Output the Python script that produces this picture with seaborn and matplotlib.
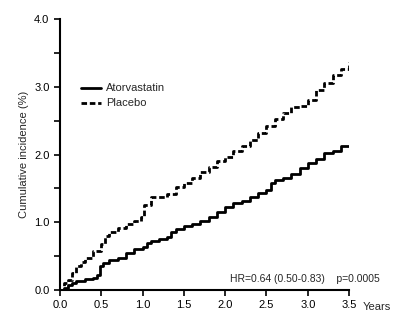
import numpy as np
import pandas as pd
import seaborn as sns
import matplotlib
matplotlib.use("Agg")
import matplotlib.pyplot as plt
from matplotlib.ticker import MultipleLocator, FormatStrFormatter

ator_t = [0, 0.05, 0.1, 0.15, 0.2, 0.3, 0.4, 0.45, 0.48, 0.52, 0.6, 0.7, 0.8, 0.9, 1.0, 1.05, 1.1, 1.2, 1.3, 1.35,
          1.4, 1.5, 1.6, 1.7, 1.8, 1.9, 2.0, 2.1, 2.2, 2.3, 2.4, 2.5, 2.55, 2.6, 2.7, 2.8, 2.9, 3.0, 3.1, 3.2, 3.3, 3.4, 3.5]
ator_v = [0, 0.03, 0.07, 0.11, 0.14, 0.16, 0.18, 0.22, 0.36, 0.40, 0.45, 0.48, 0.55, 0.60, 0.64, 0.70, 0.73, 0.75, 0.78, 0.85,
          0.90, 0.95, 0.98, 1.02, 1.08, 1.15, 1.22, 1.28, 1.32, 1.38, 1.43, 1.48, 1.58, 1.62, 1.66, 1.72, 1.80, 1.87, 1.93, 2.02, 2.05, 2.12, 2.12]
plac_t = [0, 0.05, 0.1, 0.15, 0.2, 0.25, 0.3, 0.4, 0.5, 0.55, 0.6, 0.7, 0.8, 0.9, 0.98, 1.02, 1.1, 1.2, 1.3, 1.4, 1.5,
          1.6, 1.7, 1.8, 1.9, 2.0, 2.1, 2.2, 2.3, 2.4, 2.5, 2.6, 2.7, 2.8, 2.9, 3.0, 3.1, 3.2, 3.3, 3.4, 3.5]
plac_v = [0, 0.1, 0.15, 0.25, 0.35, 0.42, 0.48, 0.58, 0.68, 0.80, 0.86, 0.92, 0.97, 1.02, 1.08, 1.25, 1.37, 1.37, 1.42, 1.52, 1.58,
          1.66, 1.74, 1.82, 1.90, 1.97, 2.05, 2.12, 2.22, 2.32, 2.42, 2.52, 2.62, 2.70, 2.72, 2.80, 2.96, 3.05, 3.18, 3.26, 3.36]
groups = ["Atorvastatin", "Placebo"]

df = pd.concat([
    pd.DataFrame({"t": ator_t, "v": ator_v, "g": groups[0]}),
    pd.DataFrame({"t": plac_t, "v": plac_v, "g": groups[1]}),
])

sns.set_theme(style="ticks")
plt.rcParams["font.family"] = ["Liberation Sans Narrow", "Liberation Sans", "DejaVu Sans"]

fig = plt.figure(figsize=(3.94, 3.23), dpi=100)
ax = fig.add_axes([0.152, 0.102, 0.734, 0.839])

sns.lineplot(data=df, x="t", y="v", hue="g", style="g", palette=["black", "black"],
             dashes={"Atorvastatin": "", "Placebo": (2, 1)}, drawstyle="steps-post",
             linewidth=2, ax=ax, legend=False)

ax.set_xlim(0, 3.5)
ax.set_ylim(0, 4.0)
ax.xaxis.set_major_locator(MultipleLocator(0.5))
ax.xaxis.set_major_formatter(FormatStrFormatter("%.1f"))
ax.yaxis.set_major_locator(MultipleLocator(1.0))
ax.yaxis.set_minor_locator(MultipleLocator(0.5))
ax.yaxis.set_major_formatter(FormatStrFormatter("%.1f"))
ax.tick_params(axis="both", which="both", labelsize=8, width=1.2, length=4, direction="out", colors="black")
ax.tick_params(axis="y", which="minor", length=4)
for s in ["top", "right"]:
    ax.spines[s].set_visible(False)
for s in ["left", "bottom"]:
    ax.spines[s].set_linewidth(1.5)
    ax.spines[s].set_color("black")
ax.set_xlabel("")
ax.set_ylabel("Cumulative incidence (%)", fontsize=8)

fig.text(0.921, 0.05, "Years", fontsize=8, va="center", ha="left")
ax.text(2.97, 0.17, "HR=0.64 (0.50-0.83)    p=0.0005", fontsize=7.5, ha="center", va="center")

# legend
ax.plot([0.25, 0.5], [2.98, 2.98], color="black", lw=2)
ax.plot([0.25, 0.5], [2.76, 2.76], color="black", lw=2, dashes=(2, 1))
ax.text(0.56, 2.98, "Atorvastatin", fontsize=8, va="center")
ax.text(0.56, 2.76, "Placebo", fontsize=8, va="center")

fig.savefig("out.png", dpi=100)
